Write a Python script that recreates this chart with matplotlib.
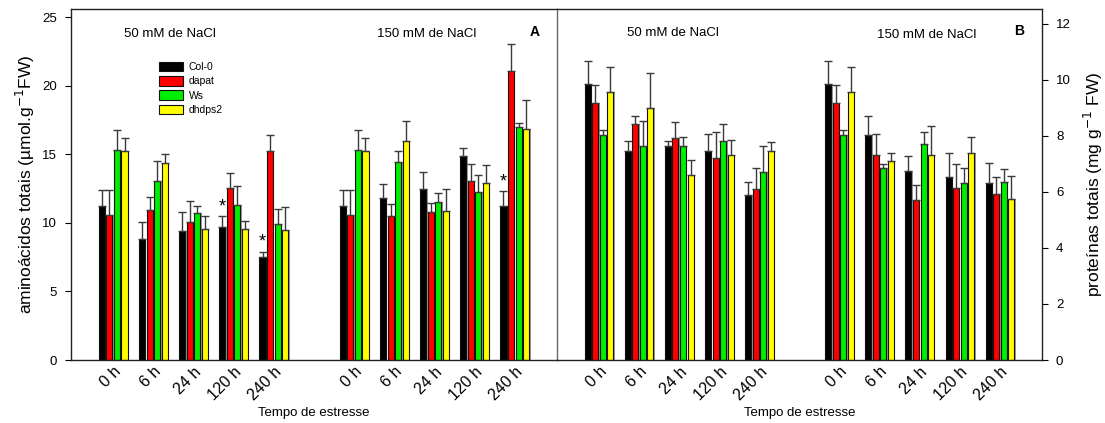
import matplotlib
matplotlib.use("Agg")
import matplotlib.pyplot as plt
import numpy as np

plt.rcParams['font.family'] = ['Liberation Sans', 'DejaVu Sans']

# ---- data ----
times = ["0 h", "6 h", "24 h", "120 h", "240 h"]
genotypes = ["Col-0", "dapat", "Ws", "dhdps2"]
colors = ["#000000", "#ff0000", "#00ee00", "#ffff00"]

# Panel A: aminoácidos totais; 50 mM (5 times) then 150 mM (5 times)
aa_col0 = [11.2, 8.8, 9.4, 9.72, 7.48, 11.2, 11.81, 12.49, 14.87, 11.2]
aa_dapat = [10.55, 10.9, 10.03, 12.51, 15.2, 10.55, 10.47, 10.81, 13.05, 21.1]
aa_ws = [15.3, 13.05, 10.71, 11.3, 9.89, 15.3, 14.43, 11.52, 12.24, 16.96]
aa_dhdps2 = [15.2, 14.36, 9.52, 9.57, 9.5, 15.2, 15.94, 10.86, 12.93, 16.81]
aa_col0_err = [1.17, 1.23, 1.41, 0.75, 0.42, 1.17, 1.02, 1.24, 0.61, 1.14]
aa_dapat_err = [1.82, 0.98, 1.56, 1.12, 1.23, 1.82, 0.9, 0.66, 1.24, 1.9]
aa_ws_err = [1.5, 1.43, 0.54, 1.41, 1.14, 1.5, 0.83, 0.68, 1.24, 0.28]
aa_dhdps2_err = [1.0, 0.64, 0.95, 0.59, 1.65, 1.0, 1.45, 1.58, 1.28, 2.14]

# Panel B: proteínas totais
pr_col0 = [9.86, 7.44, 7.63, 7.44, 5.9, 9.86, 8.04, 6.75, 6.51, 6.32]
pr_dapat = [9.18, 8.42, 7.92, 7.2, 6.1, 9.18, 7.32, 5.71, 6.15, 5.92]
pr_ws = [8.04, 7.63, 7.63, 7.81, 6.7, 8.04, 6.83, 7.7, 6.31, 6.36]
pr_dhdps2 = [9.56, 8.99, 6.6, 7.31, 7.45, 9.56, 7.1, 7.32, 7.37, 5.73]
pr_col0_err = [0.82, 0.37, 0.19, 0.62, 0.46, 0.82, 0.67, 0.52, 0.88, 0.69]
pr_dapat_err = [0.64, 0.29, 0.57, 0.92, 0.75, 0.64, 0.75, 0.52, 0.85, 0.62]
pr_ws_err = [0.17, 0.88, 0.32, 0.62, 0.94, 0.17, 0.16, 0.42, 0.52, 0.46]
pr_dhdps2_err = [0.9, 1.26, 0.55, 0.54, 0.32, 0.9, 0.27, 1.01, 0.57, 0.84]

# significance stars (panel A): (series index, group index)
aa_stars = [(0, 3), (0, 4), (0, 9)]

group_pos = [0, 1, 2, 3, 4, 6, 7, 8, 9, 10]
tick_labels = times + times

W, H = 1105, 423
fig = plt.figure(figsize=(W / 100, H / 100), dpi=100)
axA = fig.add_axes([71 / W, (H - 360) / H, 486 / W, 350.5 / H])
axB = fig.add_axes([557 / W, (H - 360) / H, 485 / W, 350.5 / H])
axB.patch.set_alpha(0)

pitch = 0.188
bw = 0.15
offsets = (np.arange(4) - 1.5) * pitch


def draw(ax, vals, errs):
    x = np.array(group_pos, dtype=float)
    for i, (v, e, c) in enumerate(zip(vals, errs, colors)):
        xi = x + offsets[i]
        # gray shadow
        ax.bar(xi + 0.035, v, width=bw, color="#9a9a9a", edgecolor="none", zorder=1)
        ax.bar(xi, v, width=bw, color=c, edgecolor="#111111", linewidth=0.8, zorder=2,
               label=genotypes[i])
        ax.errorbar(xi, v, yerr=[np.zeros(len(v)), e], fmt="none", ecolor="#3a3a3a",
                    elinewidth=1.0, capsize=3.0, capthick=1.0, zorder=3)
    ax.set_xlim(-1.05, 11.05)
    ax.set_xticks(group_pos)
    ax.set_xticklabels(tick_labels, rotation=45, ha="right", va="top",
                       rotation_mode="anchor", fontsize=11.5)
    ax.tick_params(axis="x", length=0, pad=3)
    ax.set_xlabel("Tempo de estresse", fontsize=9.5, labelpad=3)
    for s in ax.spines.values():
        s.set_linewidth(1.0)
        s.set_color("#222222")


aa_vals = [aa_col0, aa_dapat, aa_ws, aa_dhdps2]
aa_errs = [aa_col0_err, aa_dapat_err, aa_ws_err, aa_dhdps2_err]
pr_vals = [pr_col0, pr_dapat, pr_ws, pr_dhdps2]
pr_errs = [pr_col0_err, pr_dapat_err, pr_ws_err, pr_dhdps2_err]

draw(axA, aa_vals, aa_errs)
draw(axB, pr_vals, pr_errs)

axA.set_ylim(0, 25.55)
axA.set_yticks([0, 5, 10, 15, 20, 25])
axA.tick_params(axis="y", direction="out", length=4, labelsize=9.5, pad=6)
axA.set_ylabel("aminoácidos totais (µmol.g$^{-1}$FW)", fontsize=12.5, labelpad=4)
axA.spines["right"].set_color("#666666")
axA.spines["right"].set_zorder(5)

axB.set_ylim(0, 12.5)
axB.set_yticks([0, 2, 4, 6, 8, 10, 12])
axB.yaxis.tick_right()
axB.yaxis.set_label_position("right")
axB.tick_params(axis="y", direction="out", length=4, labelsize=9.5, pad=6)
axB.set_ylabel("proteínas totais (mg g$^{-1}$ FW)", fontsize=12.5, labelpad=8)
axB.spines["left"].set_visible(False)

# stars
for si, gi in aa_stars:
    xs = group_pos[gi] + offsets[si]
    ys = aa_vals[si][gi] + aa_errs[si][gi]
    axA.text(xs, ys + 0.05, "*", ha="center", va="bottom", fontsize=13)

# annotations
axA.text(0.204, 0.930, "50 mM de NaCl", transform=axA.transAxes, ha="center", va="center", fontsize=9.5)
axA.text(0.732, 0.930, "150 mM de NaCl", transform=axA.transAxes, ha="center", va="center", fontsize=9.5)
axA.text(0.955, 0.935, "A", transform=axA.transAxes, ha="center", va="center", fontsize=10, fontweight="bold")
axB.text(0.24, 0.932, "50 mM de NaCl", transform=axB.transAxes, ha="center", va="center", fontsize=9.5)
axB.text(0.763, 0.926, "150 mM de NaCl", transform=axB.transAxes, ha="center", va="center", fontsize=9.5)
axB.text(0.953, 0.94, "B", transform=axB.transAxes, ha="center", va="center", fontsize=10, fontweight="bold")

# legend
handles = [plt.Rectangle((0, 0), 1, 1, facecolor=c, edgecolor="#111111", linewidth=0.8) for c in colors]
axA.legend(handles, genotypes, loc="upper left", bbox_to_anchor=(0.181, 0.850), frameon=False,
           fontsize=7.5, handlelength=2.3, handleheight=1.0, handletextpad=0.55, labelspacing=0.38,
           borderpad=0.0, borderaxespad=0.0)

fig.savefig("out.png", dpi=100)
